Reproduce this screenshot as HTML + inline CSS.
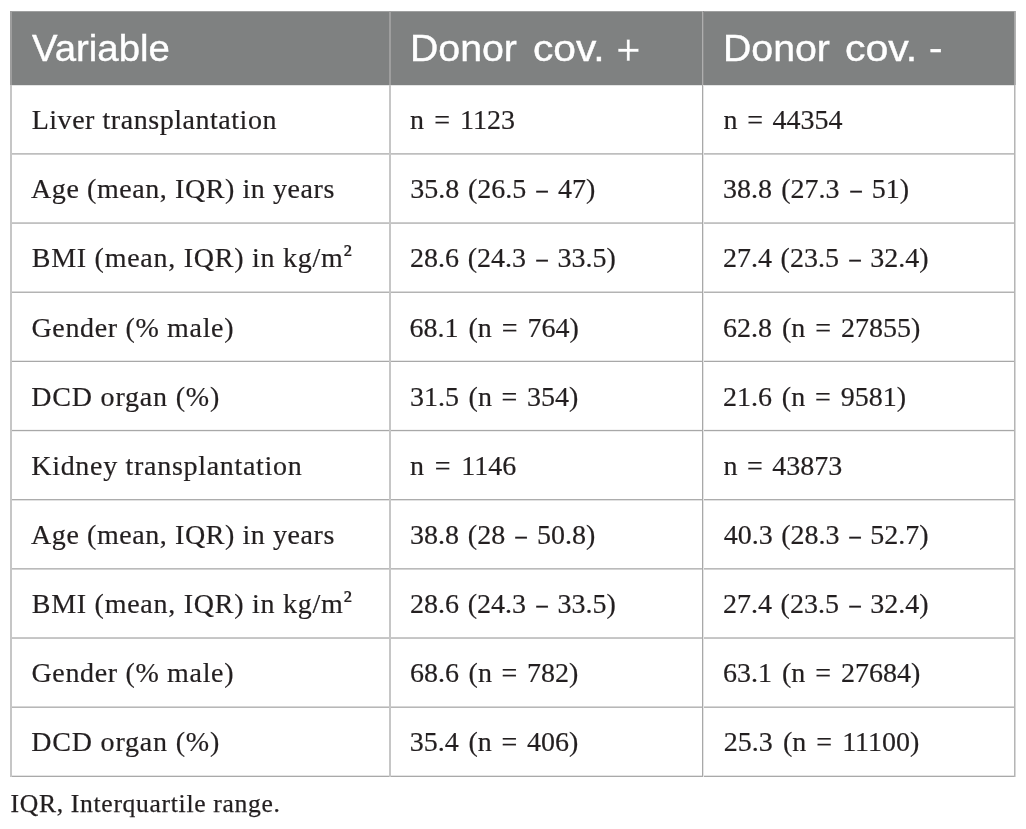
<!DOCTYPE html>
<html><head><meta charset="utf-8"><title>Table</title>
<style>
html,body{margin:0;padding:0;background:#fff;}
body{width:1026px;height:829px;position:relative;overflow:hidden;}
.hd{position:absolute;left:11px;top:12px;width:1004px;height:73px;background:#7f8181;}
.ln{position:absolute;background:#bdbdbd;}
.t{position:absolute;white-space:pre;line-height:40px;height:40px;margin:0;transform-origin:0 50%;}
.b{font-family:"Liberation Serif",serif;font-size:28px;color:#231f20;-webkit-text-stroke:0.2px #231f20;}
.sup{position:relative;top:-3px;font-size:inherit;vertical-align:baseline;line-height:0;}
.d{display:inline-block;transform:scaleX(.8);-webkit-text-stroke:.45px #231f20;}
table,thead,tbody,tr{display:block;margin:0;padding:0;border:0;}
th{display:block;position:absolute;left:0;top:0;width:0;height:0;padding:0;font-weight:400;}
td{display:block;padding:0;}
.f{font-family:"Liberation Serif",serif;font-size:25.6px;color:#231f20;-webkit-text-stroke:0.25px #231f20;}
.h{font-family:"Liberation Sans",sans-serif;font-size:36.6px;color:#fff;-webkit-text-stroke:0.4px #fff;}
</style></head><body>
<div class="hd"></div>
<div class="ln" style="left:11px;top:11px;width:1004px;height:1px;background:#9fa0a0"></div>
<div class="ln" style="left:11px;top:85px;width:1004px;height:1px;background:#e4e5e5"></div>
<div class="ln" style="left:11px;top:153px;width:1004px;height:1px;background:#bebebe"></div>
<div class="ln" style="left:11px;top:154px;width:1004px;height:1px;background:#cfcfcf"></div>
<div class="ln" style="left:11px;top:222px;width:1004px;height:1px;background:#cccccc"></div>
<div class="ln" style="left:11px;top:223px;width:1004px;height:1px;background:#c1c1c1"></div>
<div class="ln" style="left:11px;top:291px;width:1004px;height:1px;background:#dadada"></div>
<div class="ln" style="left:11px;top:292px;width:1004px;height:1px;background:#b3b3b3"></div>
<div class="ln" style="left:11px;top:360px;width:1004px;height:1px;background:#e8e8e8"></div>
<div class="ln" style="left:11px;top:361px;width:1004px;height:1px;background:#a8a8a8"></div>
<div class="ln" style="left:11px;top:429px;width:1004px;height:1px;background:#f5f5f5"></div>
<div class="ln" style="left:11px;top:430px;width:1004px;height:1px;background:#a8a8a8"></div>
<div class="ln" style="left:11px;top:431px;width:1004px;height:1px;background:#eeeeee"></div>
<div class="ln" style="left:11px;top:499px;width:1004px;height:1px;background:#acacac"></div>
<div class="ln" style="left:11px;top:500px;width:1004px;height:1px;background:#e1e1e1"></div>
<div class="ln" style="left:11px;top:568px;width:1004px;height:1px;background:#bababa"></div>
<div class="ln" style="left:11px;top:569px;width:1004px;height:1px;background:#d3d3d3"></div>
<div class="ln" style="left:11px;top:637px;width:1004px;height:1px;background:#c8c8c8"></div>
<div class="ln" style="left:11px;top:638px;width:1004px;height:1px;background:#c5c5c5"></div>
<div class="ln" style="left:11px;top:706px;width:1004px;height:1px;background:#d6d6d6"></div>
<div class="ln" style="left:11px;top:707px;width:1004px;height:1px;background:#b7b7b7"></div>
<div class="ln" style="left:11px;top:775px;width:1004px;height:1px;background:#e4e4e4"></div>
<div class="ln" style="left:11px;top:776px;width:1004px;height:1px;background:#a9a9a9"></div>
<div class="ln" style="left:10px;top:85px;width:1px;height:692px;background:#c6c6c6"></div>
<div class="ln" style="left:10px;top:11px;width:1px;height:74px;background:#9d9d9d"></div>
<div class="ln" style="left:11px;top:85px;width:1px;height:692px;background:#c6c6c6"></div>
<div class="ln" style="left:11px;top:11px;width:1px;height:74px;background:#9e9e9e"></div>
<div class="ln" style="left:389px;top:85px;width:1px;height:692px;background:#c6c6c6"></div>
<div class="ln" style="left:389px;top:11px;width:1px;height:74px;background:#9e9e9e"></div>
<div class="ln" style="left:390px;top:85px;width:1px;height:692px;background:#c6c6c6"></div>
<div class="ln" style="left:390px;top:11px;width:1px;height:74px;background:#9e9e9e"></div>
<div class="ln" style="left:702px;top:85px;width:1px;height:692px;background:#a8a8a8"></div>
<div class="ln" style="left:702px;top:11px;width:1px;height:74px;background:#aeaeae"></div>
<div class="ln" style="left:703px;top:85px;width:1px;height:692px;background:#e5e5e5"></div>
<div class="ln" style="left:703px;top:11px;width:1px;height:74px;background:#8e8e8e"></div>
<div class="ln" style="left:1014px;top:85px;width:1px;height:692px;background:#b5b5b5"></div>
<div class="ln" style="left:1014px;top:11px;width:1px;height:74px;background:#a7a7a7"></div>
<div class="ln" style="left:1015px;top:85px;width:1px;height:692px;background:#d8d8d8"></div>
<div class="ln" style="left:1015px;top:11px;width:1px;height:74px;background:#b2b2b2"></div>
<table>
<thead><tr>
<th><span class="t h" style="left:32.38px;top:29.32px;transform:scaleX(1.0483);">Variable</span></th>
<th><span class="t h" style="left:409.50px;top:29.32px;transform:scaleX(1.0722);">Donor</span> <span class="t h" style="left:532.70px;top:29.32px;transform:scaleX(1.1127);">cov.</span> <span class="t h" style="left:615.50px;top:30.11px;font-size:45px;-webkit-text-stroke:0.4px #7f8181;transform:scaleX(0.9435);">+</span></th>
<th><span class="t h" style="left:722.50px;top:29.32px;transform:scaleX(1.0722);">Donor</span> <span class="t h" style="left:845.00px;top:29.32px;transform:scaleX(1.1213);">cov.</span> <span class="t h" style="left:929.00px;top:28.02px;transform:scaleX(1.1042);">-</span></th>
</tr></thead>
<tbody>
<tr><td class="t b" style="left:31.64px;top:99.55px;letter-spacing:0.540px;">Liver transplantation</td><td class="t b" style="left:410.07px;top:99.55px;word-spacing:3.122px;">n = 1123</td><td class="t b" style="left:723.52px;top:99.55px;word-spacing:2.653px;">n = 44354</td></tr>
<tr><td class="t b" style="left:31.07px;top:168.55px;letter-spacing:0.574px;">Age (mean, IQR) in years</td><td class="t b" style="left:410.14px;top:168.55px;word-spacing:1.854px;">35.8 (26.5 <span class="d">–</span> 47)</td><td class="t b" style="left:723.00px;top:168.55px;word-spacing:2.138px;">38.8 (27.3 <span class="d">–</span> 51)</td></tr>
<tr><td class="t b" style="left:31.75px;top:237.55px;letter-spacing:0.737px;">BMI (mean, IQR) in kg/m<sup class="sup">²</sup></td><td class="t b" style="left:410.00px;top:237.55px;word-spacing:1.738px;">28.6 (24.3 <span class="d">–</span> 33.5)</td><td class="t b" style="left:723.00px;top:237.55px;word-spacing:1.604px;">27.4 (23.5 <span class="d">–</span> 32.4)</td></tr>
<tr><td class="t b" style="left:31.43px;top:307.55px;letter-spacing:0.663px;">Gender (% male)</td><td class="t b" style="left:409.50px;top:307.55px;word-spacing:2.938px;">68.1 (n = 764)</td><td class="t b" style="left:723.00px;top:307.55px;word-spacing:2.942px;">62.8 (n = 27855)</td></tr>
<tr><td class="t b" style="left:31.23px;top:376.55px;letter-spacing:0.808px;">DCD organ (%)</td><td class="t b" style="left:410.00px;top:376.55px;word-spacing:2.604px;">31.5 (n = 354)</td><td class="t b" style="left:723.00px;top:376.55px;word-spacing:2.871px;">21.6 (n = 9581)</td></tr>
<tr><td class="t b" style="left:31.26px;top:445.55px;letter-spacing:0.700px;">Kidney transplantation</td><td class="t b" style="left:410.07px;top:445.55px;word-spacing:3.716px;">n = 1146</td><td class="t b" style="left:723.52px;top:445.55px;word-spacing:2.445px;">n = 43873</td></tr>
<tr><td class="t b" style="left:31.07px;top:514.55px;letter-spacing:0.574px;">Age (mean, IQR) in years</td><td class="t b" style="left:410.00px;top:514.55px;word-spacing:1.867px;">38.8 (28 <span class="d">–</span> 50.8)</td><td class="t b" style="left:723.81px;top:514.55px;word-spacing:1.334px;">40.3 (28.3 <span class="d">–</span> 52.7)</td></tr>
<tr><td class="t b" style="left:31.75px;top:583.55px;letter-spacing:0.737px;">BMI (mean, IQR) in kg/m<sup class="sup">²</sup></td><td class="t b" style="left:410.00px;top:583.55px;word-spacing:1.738px;">28.6 (24.3 <span class="d">–</span> 33.5)</td><td class="t b" style="left:723.00px;top:583.55px;word-spacing:1.604px;">27.4 (23.5 <span class="d">–</span> 32.4)</td></tr>
<tr><td class="t b" style="left:31.43px;top:652.55px;letter-spacing:0.663px;">Gender (% male)</td><td class="t b" style="left:410.00px;top:652.55px;word-spacing:2.604px;">68.6 (n = 782)</td><td class="t b" style="left:723.00px;top:652.55px;word-spacing:2.942px;">63.1 (n = 27684)</td></tr>
<tr><td class="t b" style="left:31.23px;top:721.55px;letter-spacing:0.808px;">DCD organ (%)</td><td class="t b" style="left:409.77px;top:721.55px;word-spacing:2.709px;">35.4 (n = 406)</td><td class="t b" style="left:723.83px;top:721.55px;word-spacing:3.070px;">25.3 (n = 11100)</td></tr>
</tbody></table>
<p class="t f" style="left:10.58px;top:784.06px;letter-spacing:0.684px;">IQR, Interquartile range.</p>
</body></html>
